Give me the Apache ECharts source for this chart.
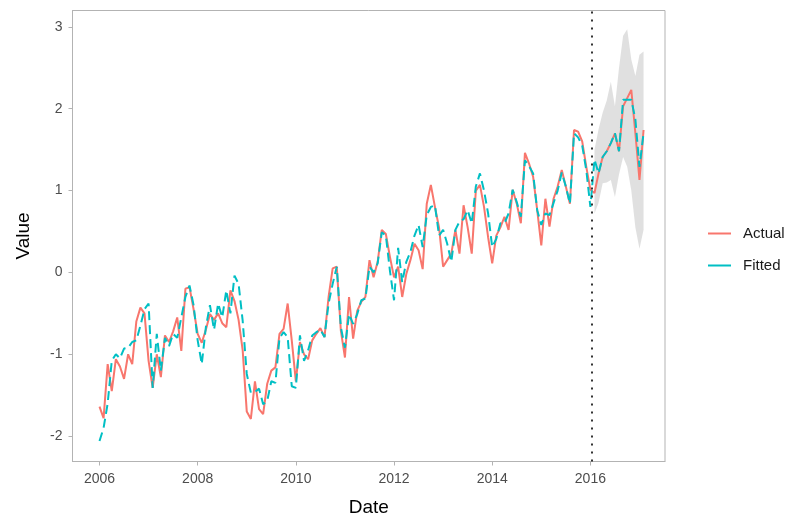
<!DOCTYPE html>
<html>
<head>
<meta charset="utf-8">
<script src="https://cdn.jsdelivr.net/npm/echarts/dist/echarts.min.js"></script>
<style>html,body{margin:0;padding:0;background:#fff;}#chart{width:798px;height:520px;}</style>
</head>
<body>
<div id="chart"></div>
<script>
// Monthly series starting January 2006
const startYear = 2006;
const actual = [
-1.64,-1.78,-1.12,-1.45,-1.06,-1.15,-1.30,-1.00,-1.12,-0.60,-0.43,-0.50,
-1.08,-1.41,-1.00,-1.28,-0.77,-0.85,-0.72,-0.55,-0.96,-0.20,-0.18,-0.45,
-0.75,-0.86,-0.70,-0.51,-0.58,-0.50,-0.62,-0.67,-0.22,-0.35,-0.58,-0.95,
-1.70,-1.79,-1.33,-1.67,-1.73,-1.36,-1.20,-1.16,-0.75,-0.69,-0.38,-0.83,
-1.33,-0.85,-1.00,-1.06,-0.83,-0.75,-0.68,-0.79,-0.30,0.05,0.07,-0.71,
-1.04,-0.30,-0.81,-0.47,-0.36,-0.30,0.15,-0.06,0.13,0.52,0.47,0.19,
-0.06,0.07,-0.30,-0.02,0.15,0.35,0.27,0.04,0.84,1.07,0.80,0.55,
0.07,0.15,0.23,0.52,0.23,0.82,0.55,0.23,1.00,1.07,0.80,0.43,
0.11,0.45,0.55,0.68,0.52,1.01,0.84,0.60,1.46,1.33,1.17,0.76,
0.33,0.90,0.56,0.90,1.05,1.25,1.05,0.84,1.74,1.72,1.60,1.29,
1.01,0.97,1.21,1.41,1.48,1.58,1.70,1.48,2.03,2.13,2.23,1.70,
1.13,1.74
];
const fitted = [
-2.06,-1.90,-1.60,-1.08,-1.00,-1.05,-0.93,-0.92,-0.85,-0.83,-0.65,-0.45,
-0.38,-1.41,-0.75,-1.20,-0.80,-0.90,-0.75,-0.80,-0.55,-0.30,-0.16,-0.40,
-0.83,-1.12,-0.67,-0.40,-0.70,-0.38,-0.55,-0.22,-0.50,-0.04,-0.14,-0.59,
-1.24,-1.47,-1.46,-1.42,-1.61,-1.57,-1.33,-1.35,-0.80,-0.73,-0.79,-1.39,
-1.41,-0.77,-1.08,-0.95,-0.77,-0.73,-0.70,-0.79,-0.38,-0.14,0.07,-0.67,
-0.92,-0.51,-0.63,-0.51,-0.34,-0.32,0.07,0.00,0.11,0.49,0.45,0.02,
-0.34,0.30,-0.12,0.13,0.25,0.45,0.58,0.31,0.70,0.80,0.82,0.45,
0.52,0.35,0.13,0.52,0.62,0.65,0.76,0.60,1.05,1.21,1.00,0.72,
0.31,0.41,0.60,0.60,0.72,1.01,0.86,0.68,1.37,1.30,1.21,0.76,
0.58,0.72,0.70,0.85,1.00,1.22,1.05,0.84,1.70,1.65,1.55,1.25,
0.80,1.38,1.21,1.41,1.48,1.58,1.70,1.48,2.11,2.11,2.11,1.87,
1.29,1.70
];
// Forecast interval (starts at month index forecastStart)
const forecastStart = 121;
const ribbonLow  = [0.72,0.85,1.09,1.10,1.13,0.92,1.20,1.41,1.29,1.00,0.55,0.29,0.52];
const ribbonHigh = [1.50,1.75,1.95,2.10,2.33,2.03,2.50,2.89,2.97,2.60,2.40,2.66,2.70];
const forecastLine = 2016.02;
const xTicks = [2006, 2008, 2010, 2012, 2014, 2016];
const yTicks = [-2, -1, 0, 1, 2, 3];

const xs = actual.map((_, i) => startYear + i / 12);
const actualData = actual.map((v, i) => [xs[i], v]);
const fittedData = fitted.map((v, i) => [xs[i], v]);
const ribbonData = ribbonLow.map((lo, k) => [xs[forecastStart + k], lo, ribbonHigh[k]]);

const chart = echarts.init(document.getElementById('chart'), null, {renderer: 'canvas'});
const FONT = '"Liberation Sans", Arial, sans-serif';
const AXC = '#b3b3b3';

chart.setOption({
  animation: false,
  backgroundColor: '#ffffff',
  textStyle: {fontFamily: FONT},
  grid: {left: 72.5, right: 133, top: 10.5, bottom: 58.5, outerBoundsMode: 'none', containLabel: false,
         show: true, borderColor: AXC, borderWidth: 1, backgroundColor: 'transparent'},
  legend: {
    left: 703, top: 221, orient: 'vertical', itemGap: 17,
    itemWidth: 23, itemHeight: 2,
    textStyle: {fontFamily: FONT, fontSize: 15, color: '#1a1a1a', padding: [0, 0, 0, 7]},
    data: [{name: 'Actual', icon: 'rect'}, {name: 'Fitted', icon: 'rect'}]
  },
  xAxis: {
    type: 'value', min: 2005.45, max: 2017.52,
    name: 'Date', nameLocation: 'middle', nameGap: 37,
    nameTextStyle: {fontFamily: FONT, fontSize: 19, color: '#000'},
    axisLine: {show: true, onZero: false, lineStyle: {color: AXC}},
    axisTick: {show: true, length: 4, lineStyle: {color: AXC}, customValues: xTicks},
    axisLabel: {fontFamily: FONT, fontSize: 14, color: '#4d4d4d', margin: 11, customValues: xTicks, formatter: v => String(v)},
    splitLine: {show: false}
  },
  yAxis: {
    type: 'value', min: -2.31, max: 3.20,
    name: 'Value', nameLocation: 'middle', nameGap: 39, nameRotate: 90,
    nameTextStyle: {fontFamily: FONT, fontSize: 19, color: '#000'},
    axisLine: {show: true, onZero: false, lineStyle: {color: AXC}},
    axisTick: {show: true, length: 4, lineStyle: {color: AXC}, customValues: yTicks},
    axisLabel: {fontFamily: FONT, fontSize: 14, color: '#4d4d4d', margin: 10, customValues: yTicks, formatter: v => String(v)},
    splitLine: {show: false}
  },
  series: [
    {
      type: 'custom', name: 'band', silent: true, z: 1,
      data: ribbonData,
      encode: {x: 0, y: [1, 2]},
      renderItem: function (params, api) {
        if (params.dataIndex !== 0) return null;
        const top = ribbonData.map(d => api.coord([d[0], d[2]]));
        const bot = ribbonData.slice().reverse().map(d => api.coord([d[0], d[1]]));
        return {type: 'polygon', shape: {points: top.concat(bot)}, style: {fill: 'rgba(153,153,153,0.3)'}};
      }
    },
    {
      type: 'line', name: 'Actual', data: actualData, showSymbol: false, z: 3,
      color: '#F8766D',
      lineStyle: {color: '#F8766D', width: 2},
      markLine: {
        silent: true, symbol: 'none', label: {show: false},
        lineStyle: {color: '#333333', type: [2, 6], width: 2},
        data: [{xAxis: forecastLine}]
      }
    },
    {
      type: 'line', name: 'Fitted', data: fittedData, showSymbol: false, z: 4,
      color: '#00BFC4',
      lineStyle: {color: '#00BFC4', width: 2, type: [9, 5]}
    }
  ]
});
</script>
</body>
</html>
